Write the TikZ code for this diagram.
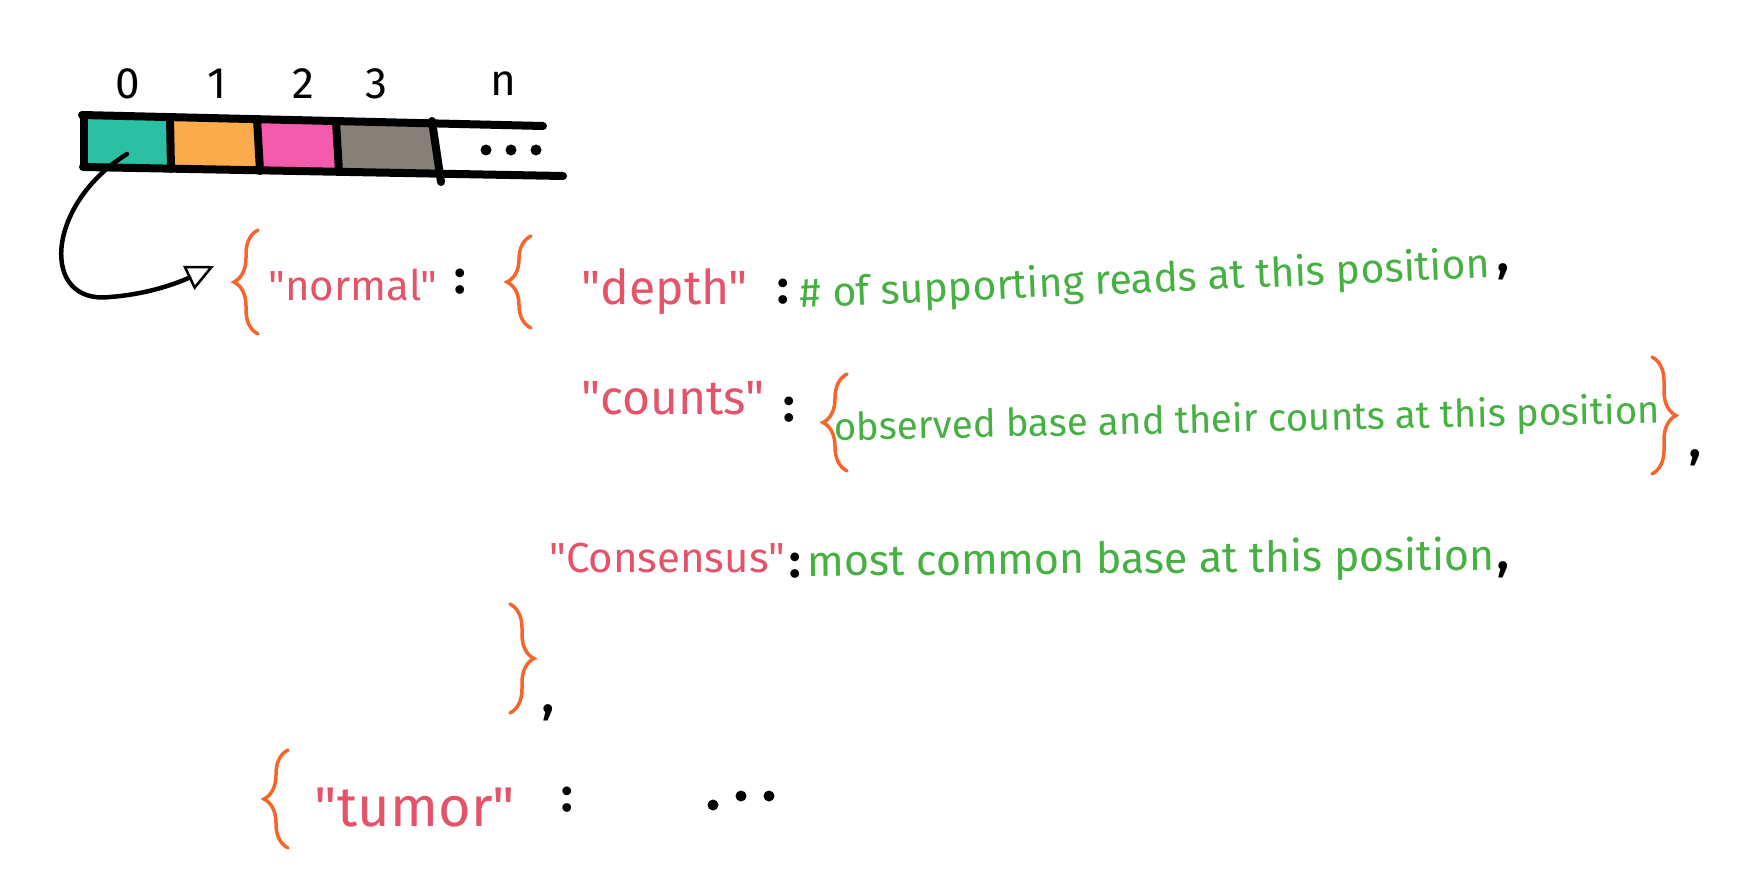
\documentclass[tikz,border=0pt]{standalone}
\usepackage{fontspec}
\setmainfont{Fira Sans}[Ligatures=TeXOff]
\usetikzlibrary{arrows.meta,decorations.pathreplacing}
\definecolor{keyred}{HTML}{E5536A}
\definecolor{valgreen}{HTML}{46B043}
\definecolor{braceor}{HTML}{F7652B}
\definecolor{cteal}{HTML}{2BBFA4}
\definecolor{corange}{HTML}{FBAA4C}
\definecolor{cpink}{HTML}{F45BAD}
\definecolor{cgray}{HTML}{878079}
\newcommand{\qmark}{\char34}
\begin{document}
\begin{tikzpicture}[x=1pt,y=-1pt,
  key/.style={text=keyred, inner sep=0pt},
  val/.style={text=valgreen, inner sep=0pt},
  punct/.style={text=black, inner sep=0pt, font=\fontsize{48}{52}\selectfont\bfseries},
  lbrace/.style={draw=braceor, line width=3.5pt, line cap=round, decorate, decoration={brace, amplitude=24pt, aspect=0.5}},
  idx/.style={inner sep=0pt, font=\fontsize{44}{48}\selectfont},
  bar/.style={line width=8pt, line cap=round},
]
\useasboundingbox (0,0) rectangle (1760,893);
% array cells
\fill[cteal]   (85,116) -- (170,118) -- (170,168) -- (85,167) -- cycle;
\fill[corange] (170,118) -- (258,119) -- (260,170) -- (170,168) -- cycle;
\fill[cpink]   (258,119) -- (337,121) -- (339,172) -- (260,170) -- cycle;
\fill[cgray]   (337,121) -- (431,123) -- (440,174) -- (339,172) -- cycle;
\draw[bar] (82,115) -- (543,126);
\draw[bar] (83,167) -- (563,176);
\draw[bar] (84,115) -- (84,167);
\draw[bar] (170,117) -- (171,169);
\draw[bar] (257,119) -- (260,171);
\draw[bar] (336,121) -- (339,172);
\draw[bar] (432,121) -- (441,182);
% index labels
\node[idx] (i0) at (128,84) {0};
\node[idx] (i1) at (217,84) {1};
\node[idx] (i2) at (303,84) {2};
\node[idx] (i3) at (376,84) {3};
\node[idx] (in) at (503,84) {n};
\fill (486,150) circle (5.5);
\fill (511,150) circle (5.5);
\fill (536,150) circle (5.5);
% arrow
\coordinate (c0) at (127,154);
\coordinate (tip) at (214,266);
\draw[line width=4.5pt, line cap=round, -{Triangle[open,length=28pt,width=26pt,line width=2.5pt]}]
  (c0) .. controls (45,205) and (40,305) .. (110,297) .. controls (150,294) and (180,282) .. (tip);
% braces
\draw[lbrace] (258,334) -- (258,230);
\draw[lbrace] (531,328) -- (531,236);
\draw[lbrace] (847,471) -- (847,374);
\draw[lbrace] (1652,357) -- (1652,474);
\draw[lbrace] (510,604) -- (510,713);
\draw[lbrace] (288,848) -- (288,750);
% line 0
\node[key, font=\fontsize{42}{46}\selectfont] (knormal) at (353,285) {\qmark normal\qmark};
\node[punct] (col0) at (460,282) {:};
% line 1
\node[key, font=\fontsize{48}{52}\selectfont] (kdepth) at (665,292) {\qmark depth\qmark};
\node[punct] (col1) at (783,292) {:};
\node[val, font=\fontsize{41}{46}\selectfont, rotate=2.5] (vdepth) at (1145,281) {\# of supporting reads at this position};
\node[punct] (com1) at (1503,272) {,};
% line 2
\node[key, font=\fontsize{48}{52}\selectfont] (kcounts) at (673,398) {\qmark counts\qmark};
\node[punct] (col2) at (789,410) {:};
\node[val, font=\fontsize{38.5}{44}\selectfont, rotate=1.2] (vcounts) at (1247,421) {observed base and their counts at this position};
\node[punct] (com2) at (1695,458) {,};
% line 3
\node[key, font=\fontsize{42}{46}\selectfont] (kcons) at (667,558) {\qmark Consensus\qmark};
\node[punct] (col3) at (795,566) {:};
\node[val, font=\fontsize{43}{48}\selectfont, rotate=0.5] (vcons) at (1151,561) {most common base at this position};
\node[punct] (com3) at (1503,570) {,};
% closing
\node[punct] (com4) at (548,713) {,};
% tumor
\node[key, font=\fontsize{56}{60}\selectfont] (ktumor) at (415,808) {\qmark tumor\qmark};
\node[punct] (col4) at (567,800) {:};
\fill (713,805) circle (5.5);
\fill (741,796) circle (5.5);
\fill (769,796) circle (5.5);
\end{tikzpicture}
\end{document}
